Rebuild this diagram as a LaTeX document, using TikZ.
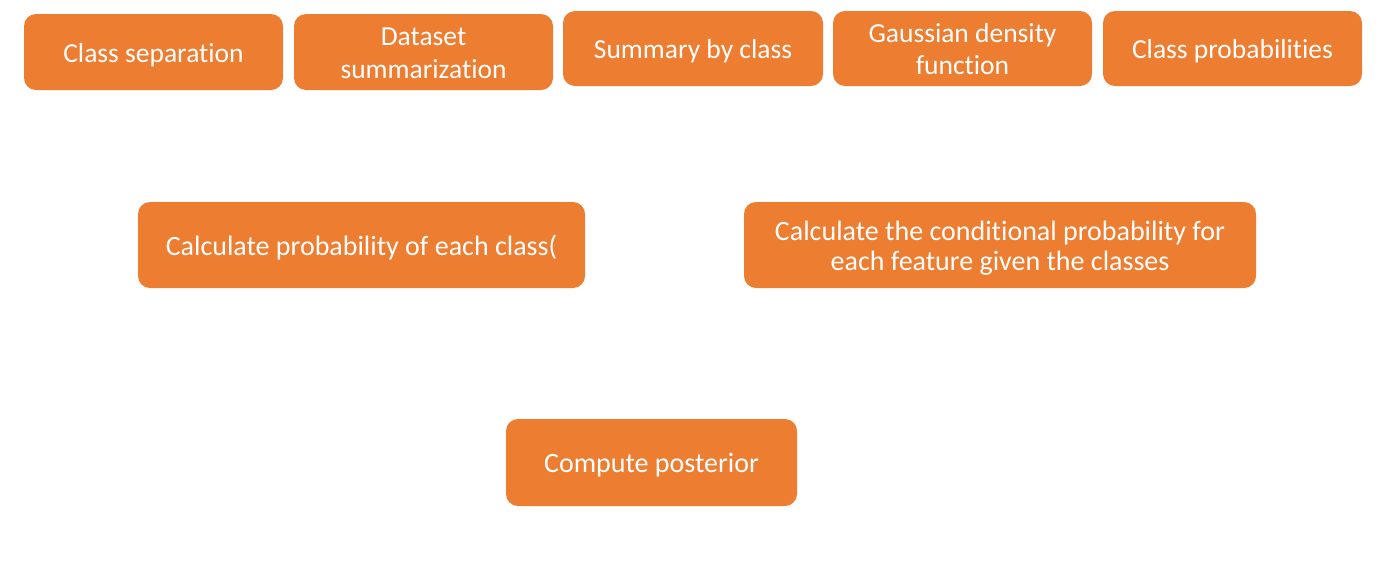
\documentclass[tikz,border=0pt]{standalone}
\usepackage{fontspec}
\setmainfont[Ligatures=NoCommon]{Carlito}
\definecolor{boxorange}{HTML}{ED7D31}
\newcommand\bxtop{\rule{0pt}{26pt}}
\newcommand\bxbot{\rule[-6pt]{0pt}{0pt}}
\begin{document}
\begin{tikzpicture}[x=1pt,y=-1pt,
  stepbox/.style={fill=boxorange,draw=none,rounded corners=12pt,text=white,
    align=center,inner sep=0pt,
    font=\fontsize{27.5}{32.5}\selectfont},
  bigtext/.style={font=\fontsize{28}{30}\selectfont}]
\useasboundingbox (0,0) rectangle (1397,563);
\node[stepbox,minimum width=259pt,minimum height=76pt] (sep) at (153.5,52) {\bxtop Class separation\bxbot};
\node[stepbox,minimum width=259pt,minimum height=76pt] (sum) at (423.5,52) {\bxtop Dataset\\summarization\bxbot};
\node[stepbox,minimum width=260pt,minimum height=75pt] (sbc) at (693,48.5) {\bxtop Summary by class\bxbot};
\node[stepbox,minimum width=259pt,minimum height=75pt] (gdf) at (962.5,48.5) {\bxtop Gaussian density\\function\bxbot};
\node[stepbox,minimum width=259pt,minimum height=75pt] (cpr) at (1232.5,48.5) {\bxtop Class probabilities\bxbot};
\node[stepbox,bigtext,minimum width=447pt,minimum height=86pt] (pec) at (361.5,245) {\bxtop Calculate probability of each class(\bxbot};
\node[stepbox,bigtext,minimum width=512pt,minimum height=86pt] (cond) at (1000,245) {\bxtop Calculate the conditional probability for\\each feature given the classes\bxbot};
\node[stepbox,bigtext,minimum width=291pt,minimum height=87pt] (post) at (651.5,462.5) {\bxtop Compute posterior\bxbot};
\end{tikzpicture}
\end{document}
